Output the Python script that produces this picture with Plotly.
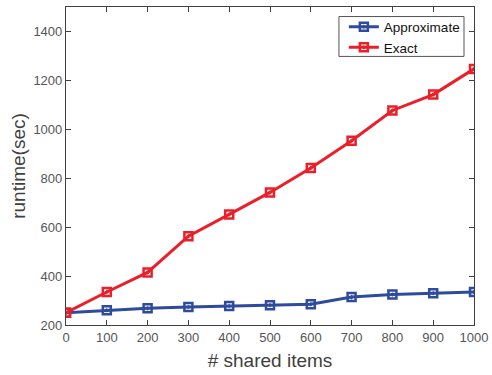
import plotly.graph_objects as go

shared_items = [0, 100, 200, 300, 400, 500, 600, 700, 800, 900, 1000]
approximate = [250, 260, 268, 274, 278, 281, 285, 314, 325, 330, 335]
exact = [250, 335, 415, 563, 652, 742, 842, 953, 1077, 1142, 1247]

blue = "#2F4B9E"
red = "#EA1F29"
axc = "#404040"
fam = "Liberation Sans, Arial"

fig = go.Figure()
fig.add_trace(go.Scatter(x=shared_items, y=approximate, mode="lines+markers", name="Approximate",
                         line=dict(color=blue, width=3),
                         marker=dict(symbol="square-open-dot", size=8, color=blue, line=dict(width=2.5, color=blue))))
fig.add_trace(go.Scatter(x=shared_items, y=exact, mode="lines+markers", name="Exact",
                         line=dict(color=red, width=3),
                         marker=dict(symbol="square-open-dot", size=8, color=red, line=dict(width=2.5, color=red))))

axis_common = dict(showgrid=False, zeroline=False, showline=True, linecolor=axc, linewidth=1.2,
                   mirror="ticks", ticks="inside", ticklen=5, tickcolor=axc, automargin=False,
                   tickfont=dict(family=fam, size=13, color="#555555"))

fig.update_xaxes(range=[0, 1000], tickvals=shared_items, ticktext=[str(v) for v in shared_items],
                 title=dict(text="# shared items", font=dict(family=fam, size=19, color="#404040"), standoff=9),
                 **axis_common)
fig.update_yaxes(range=[200, 1500], tickvals=[200, 400, 600, 800, 1000, 1200, 1400],
                 title=dict(text="runtime(sec)", font=dict(family=fam, size=19, color="#404040"), standoff=2),
                 **axis_common)

# legend frame
fig.add_shape(type="rect", xref="paper", yref="paper", x0=0.669, x1=0.9755, y0=0.8446, y1=0.970,
              line=dict(color="#555555", width=1), fillcolor="white", layer="above")

fig.update_layout(
    width=492, height=375,
    margin=dict(l=66, r=18, t=7, b=50),
    plot_bgcolor="white", paper_bgcolor="white",
    legend=dict(x=0.681, y=0.986, xanchor="left", yanchor="top",
                bgcolor="rgba(0,0,0,0)", borderwidth=0,
                font=dict(family=fam, size=13.5, color="#111111"),
                tracegroupgap=0, itemwidth=30),
    showlegend=True,
)

fig.write_html("out.html", config={"displayModeBar": False},
               post_script="document.body.style.margin='0';")
